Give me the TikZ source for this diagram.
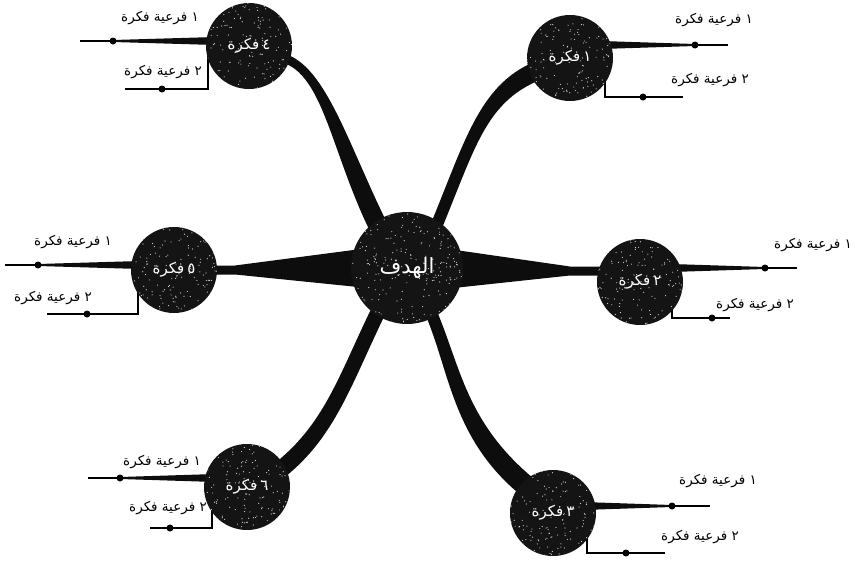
\documentclass[tikz,border=0pt]{standalone}
\usepackage{fontspec}
\newfontfamily\arabicfont[Script=Arabic]{DejaVu Sans}
\TeXXeTstate=1
\usetikzlibrary{backgrounds,calc}
\tikzset{
  goal/.style={circle, fill=black!92, minimum size=112pt, inner sep=0pt, text=white,
    font=\arabicfont\fontsize{21}{24}\selectfont},
  idea/.style={circle, fill=black!92, minimum size=86pt, inner sep=0pt, text=white,
    font=\arabicfont\fontsize{15}{17}\selectfont},
  subtext/.style={inner sep=0pt, text=black, font=\arabicfont\fontsize{13.5}{16}\selectfont},
  wedge/.style={fill=black!95, draw=none},
  subline/.style={draw=black, line width=1.6pt, line join=miter},
  subdot/.style={circle, fill=black, minimum size=7pt, inner sep=0pt},
}
% words boxed one by one, so that they stand as the reference prints them
\newcommand{\threew}[3]{\beginR\hbox{#1} \hbox{#2} \hbox{#3}\endR}
\newcommand{\twow}[2]{\beginR\hbox{#1}\kern3pt\hbox{#2}\endR}
% tapered branch: #1..#4 = bezier points (names), #5 = half width at start, #6 = at end
\newcommand{\taperbranch}[6]{%
  \coordinate (tbA) at ($(#1)!#5pt!90:(#2)$);
  \coordinate (tbB) at ($(#1)!#5pt!-90:(#2)$);
  \coordinate (tbC) at ($(#2)+(tbA)-(#1)$);
  \coordinate (tbD) at ($(#2)+(tbB)-(#1)$);
  \coordinate (tbG) at ($(#4)!#6pt!-90:(#3)$);
  \coordinate (tbH) at ($(#4)!#6pt!90:(#3)$);
  \coordinate (tbE) at ($(#3)+(tbG)-(#4)$);
  \coordinate (tbF) at ($(#3)+(tbH)-(#4)$);
  \fill[wedge] (tbA) .. controls (tbC) and (tbE) .. (tbG) -- (tbH)
     .. controls (tbF) and (tbD) .. (tbB) -- cycle;
}
\begin{document}
\begin{tikzpicture}[x=1pt,y=-1pt]
\useasboundingbox (0,0) rectangle (855,568);

% main nodes
\node[goal] (c) at (407,268) {\beginR الهدف\endR};
\node[idea] (i1) at (570,58) {\twow{١}{فكرة}};
\node[idea] (i2) at (640,282) {\twow{٢}{فكرة}};
\node[idea] (i3) at (553,513) {\twow{٣}{فكرة}};
\node[idea] (i4) at (249,46) {\twow{٤}{فكرة}};
\node[idea] (i5) at (174,270) {\twow{٥}{فكرة}};
\node[idea] (i6) at (247,487) {\twow{٦}{فكرة}};

% speckle texture of the circles
\pgfmathsetseed{17}
\foreach \n/\r/\k in {c/56/260, i1/43/150, i2/43/150, i3/43/150, i4/43/150, i5/43/150, i6/43/150}{
  \begin{scope}
    \clip (\n.center) circle (\r);
    \foreach \j in {1,...,\k}{
      \pgfmathsetmacro\ax{rand*\r}
      \pgfmathsetmacro\ay{rand*\r}
      \fill[white, opacity=0.8] ($(\n.center)+(\ax,\ay)$) circle (0.6);
    }
  \end{scope}
}

% sub-idea texts
\node[subtext] (t11) at (714,20) {\threew{١}{فرعية}{فكرة}};
\node[subtext] (t12) at (710,80) {\threew{٢}{فرعية}{فكرة}};
\node[subtext] (t21) at (813,245) {\threew{١}{فرعية}{فكرة}};
\node[subtext] (t22) at (755,305) {\threew{٢}{فرعية}{فكرة}};
\node[subtext] (t31) at (718,481) {\threew{١}{فرعية}{فكرة}};
\node[subtext] (t32) at (700,537) {\threew{٢}{فرعية}{فكرة}};
\node[subtext] (t41) at (160,18) {\threew{١}{فرعية}{فكرة}};
\node[subtext] (t42) at (163,72) {\threew{٢}{فرعية}{فكرة}};
\node[subtext] (t51) at (73,242) {\threew{١}{فرعية}{فكرة}};
\node[subtext] (t52) at (53,298) {\threew{٢}{فرعية}{فكرة}};
\node[subtext] (t61) at (162,462) {\threew{١}{فرعية}{فكرة}};
\node[subtext] (t62) at (168,508) {\threew{٢}{فرعية}{فكرة}};

% dots and line ends
\node[subdot] (d11) at (695,45) {};  \coordinate (e11) at (728,45);
\node[subdot] (d12) at (643,97) {};  \coordinate (e12) at (683,97);  \coordinate (v12) at (605,97);
\node[subdot] (d21) at (765,268) {}; \coordinate (e21) at (797,268);
\node[subdot] (d22) at (712,318) {}; \coordinate (e22) at (730,318); \coordinate (v22) at (672,318);
\node[subdot] (d31) at (672,506) {}; \coordinate (e31) at (710,506);
\node[subdot] (d32) at (626,553) {}; \coordinate (e32) at (665,553); \coordinate (v32) at (587,553);
\node[subdot] (d41) at (113,41) {};  \coordinate (e41) at (80,41);
\node[subdot] (d42) at (162,89) {};  \coordinate (e42) at (125,89);  \coordinate (v42) at (208,89);
\node[subdot] (d51) at (38,265) {};  \coordinate (e51) at (5,265);
\node[subdot] (d52) at (87,314) {};  \coordinate (e52) at (47,314);  \coordinate (v52) at (138,314);
\node[subdot] (d61) at (120,478) {}; \coordinate (e61) at (88,478);
\node[subdot] (d62) at (170,528) {}; \coordinate (e62) at (150,528); \coordinate (v62) at (212,528);

\begin{pgfonlayer}{background}
  % horizontal bow-tie branches
  \fill[wedge] ($(c.center)+(0,-25)$) -- (235,265.5) -- ($(i5.center)+(0,-4.5)$)
     -- ($(i5.center)+(0,4.5)$) -- (235,274.5) -- ($(c.center)+(0,24)$) -- cycle;
  \fill[wedge] ($(c.center)+(0,-25)$) -- (570,266.5) -- (i2.center |- 0,266.5)
     -- (i2.center |- 0,275.5) -- (570,275.5) -- ($(c.center)+(0,25)$) -- cycle;

  % curved tapered branches (ends lie inside the circles)
  \coordinate (b1a) at ($(c.center)+(23,-27)$);  \coordinate (b1b) at (470,148);
  \coordinate (b1c) at (480,90);                 \coordinate (b1d) at ($(i1.center)+(-25,10)$);
  \taperbranch{b1a}{b1b}{b1c}{b1d}{6}{9.5}
  \coordinate (b4a) at ($(i4.center)+(34,12)$);  \coordinate (b4b) at (325,70);
  \coordinate (b4c) at (340,150);                \coordinate (b4d) at ($(c.center)+(-27,-38)$);
  \taperbranch{b4a}{b4b}{b4c}{b4d}{4.5}{9.5}
  \coordinate (b6a) at ($(c.center)+(-29,44)$);  \coordinate (b6b) at (345,380);
  \coordinate (b6c) at (330,430);                \coordinate (b6d) at ($(i6.center)+(33,-17)$);
  \taperbranch{b6a}{b6b}{b6c}{b6d}{7.5}{8.5}
  \coordinate (b3a) at ($(c.center)+(25,47)$);   \coordinate (b3b) at (455,370);
  \coordinate (b3c) at (460,430);                \coordinate (b3d) at ($(i3.center)+(-28,-28)$);
  \taperbranch{b3a}{b3b}{b3c}{b3d}{6}{10.5}

  % sub branches: tapered first lines
  \foreach \i/\d/\e in {i1/d11/e11, i2/d21/e21, i3/d31/e31, i4/d41/e41, i5/d51/e51, i6/d61/e61}{
    \fill[wedge] ($(\i.center |- \d.center)+(0,-5)$) -- ($(\d.center)+(0,-1)$)
       -- ($(\d.center)+(0,1)$) -- ($(\i.center |- \d.center)+(0,5)$) -- cycle;
    \draw[subline, line width=1.3pt] (\d.center) -- (\e);
  }
  % sub branches: second lines
  \foreach \i/\v/\e in {i1/v12/e12, i2/v22/e22, i3/v32/e32, i4/v42/e42, i5/v52/e52, i6/v62/e62}{
    \draw[subline] (\i.center -| \v) -- (\v) -- (\e);
  }
\end{pgfonlayer}
\end{tikzpicture}
\end{document}
